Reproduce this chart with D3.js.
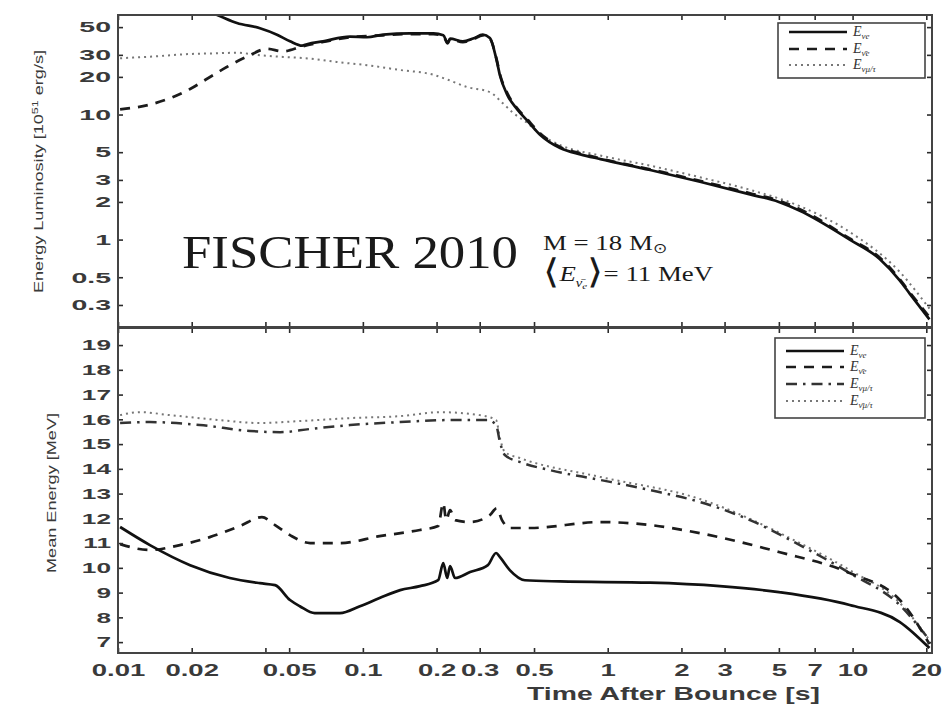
<!DOCTYPE html>
<html>
<head>
<meta charset="utf-8">
<script src="https://cdn.jsdelivr.net/npm/d3@7"></script>
<style>
  body { margin: 0; background: #fff; }
  svg { display: block; }
</style>
</head>
<body>
<svg id="chart" width="944" height="708"></svg>
<script>
// ---- data (time in s) ----
const timeTicks = [0.01, 0.02, 0.04, 0.05, 0.1, 0.2, 0.3, 0.5, 1, 2, 3, 5, 7, 10, 20];
const timeLabels = [0.01, 0.02, 0.05, 0.1, 0.2, 0.3, 0.5, 1, 2, 3, 5, 7, 10, 20];
const lumTicks = [0.3, 0.5, 1, 2, 3, 5, 10, 20, 30, 50];
const energyTicks = [7, 8, 9, 10, 11, 12, 13, 14, 15, 16, 17, 18, 19];

// luminosity [10^51 erg/s]
const lumNue = [[0.021,72],[0.0254,62.6],[0.0306,53.9],[0.038,49],[0.0446,43.5],[0.0504,38.5],
  [0.0565,35.5],[0.0591,36.5],[0.0688,38.5],[0.0886,42],[0.104,41.5],[0.121,43.5],[0.156,44.5],
  [0.194,44.5],[0.213,43],[0.222,37.5],[0.227,40.5],[0.256,38.5],[0.282,40.5],[0.309,43.5],
  [0.33,41],[0.352,27],[0.363,20.5],[0.388,14.5],[0.427,11],[0.468,9],[0.529,6.9],[0.639,5.4],
  [0.773,4.8],[0.934,4.4],[1.49,3.6],[2.38,2.9],[3.81,2.3],[5.0,2.0],[6.09,1.7],[9.73,1.0],
  [12.9,0.7],[15.6,0.47],[17.1,0.37],[20.6,0.23]];
const lumAnue = [[0.0102,11],[0.0135,12],[0.0163,13.5],[0.0197,16],[0.0233,19.5],[0.0278,24],
  [0.0336,29],[0.0406,33.5],[0.0472,32],[0.0565,35],[0.0688,38],[0.0886,41.5],[0.121,43],
  [0.156,44],[0.194,44],[0.213,42.5],[0.222,37],[0.227,40],[0.256,38],[0.282,40],[0.309,43],
  [0.33,40.5],[0.352,27.5],[0.363,21],[0.388,15],[0.427,11.2],[0.468,9.2],[0.529,7.1],[0.639,5.5],
  [0.773,4.9],[0.934,4.45],[1.49,3.65],[2.38,2.95],[3.81,2.35],[5.0,2.05],[6.09,1.75],[9.73,1.02],
  [12.9,0.72],[15.6,0.48],[17.1,0.38],[20.6,0.24]];
const lumNux = [[0.0102,28.2],[0.0135,29],[0.0197,30.5],[0.0254,30.9],[0.0306,31.2],[0.038,29.8],
  [0.0472,28.9],[0.0609,28],[0.0782,26.3],[0.104,24.8],[0.142,22.7],[0.194,20.8],[0.222,19],
  [0.266,16.6],[0.33,15.1],[0.373,12.3],[0.411,10.3],[0.468,8.6],[0.529,7],[0.639,5.7],[0.934,4.7],
  [1.49,3.9],[2.38,3.15],[3.81,2.5],[6.09,1.85],[9.73,1.15],[15.6,0.55],[20.6,0.28]];

// mean energy [MeV]
const eNue = [[0.0102,11.65],[0.0135,10.92],[0.0197,10.11],[0.0286,9.59],[0.038,9.38],[0.0438,9.3],
  [0.0504,8.7],[0.0553,8.45],[0.0636,8.17],[0.0806,8.17],[0.0973,8.45],[0.117,8.78],[0.142,9.1],
  [0.171,9.26],[0.203,9.5],[0.213,10.19],[0.221,9.59],[0.227,10.07],[0.238,9.59],[0.274,9.83],
  [0.324,10.11],[0.35,10.6],[0.363,10.43],[0.398,9.91],[0.459,9.5],[0.639,9.45],[1.49,9.4],
  [2.87,9.26],[5.0,9.02],[9.73,8.5],[15.6,7.81],[20.6,6.76]];
const eAnue = [[0.0102,10.96],[0.0135,10.72],[0.0179,10.92],[0.0237,11.24],[0.0315,11.69],
  [0.0387,12.05],[0.0438,11.73],[0.0504,11.32],[0.0609,11],[0.0806,11],[0.117,11.28],[0.171,11.53],
  [0.203,11.69],[0.213,12.62],[0.219,11.93],[0.227,12.33],[0.238,11.93],[0.274,11.85],[0.33,12.13],
  [0.352,12.41],[0.37,11.93],[0.398,11.61],[0.484,11.61],[0.934,11.85],[1.49,11.73],[2.38,11.4],
  [5.0,10.64],[9.73,9.79],[15.6,8.7],[20.6,6.92]];
const eNux = [[0.0102,15.85],[0.0135,15.89],[0.0216,15.77],[0.0346,15.53],[0.0459,15.48],
  [0.0609,15.61],[0.0886,15.77],[0.142,15.89],[0.227,15.97],[0.324,15.97],[0.35,15.77],[0.363,15.08],
  [0.38,14.56],[0.44,14.27],[0.58,13.95],[0.934,13.55],[1.49,13.14],[2.38,12.66],[3.81,11.93],
  [6.09,10.92],[9.73,9.79],[15.6,8.49],[20.6,7.08]];
const eAnux = [[0.0102,16.17],[0.0123,16.29],[0.0163,16.17],[0.026,15.97],[0.038,15.85],
  [0.0553,15.93],[0.0886,16.05],[0.142,16.13],[0.207,16.29],[0.3,16.17],[0.35,15.97],[0.363,15.24],
  [0.38,14.68],[0.44,14.43],[0.934,13.67],[2.38,12.78],[6.09,11],[9.73,9.91],[15.6,8.58],[20.6,7.08]];

// ---- layout ----
const svg = d3.select('#chart');
const L = 118, R = 932, T1 = 15, B1 = 327, T2 = 328, B2 = 653;
const ink = '#2b2b2b';

const x = d3.scaleLog().domain([0.01, 21.1]).range([L, R]);
const yLum = d3.scaleLog().domain([0.2, 62.5]).range([B1, T1]);
const yEn = d3.scaleLinear().domain([6.56, 19.69]).range([B2, T2]);

const styles = {
  solid:   {dash: null,          width: 2.7, color: '#111'},
  dashed:  {dash: '10,8',        width: 2.7, color: '#1c1c1c'},
  dashdot: {dash: '11,6,2.5,6',  width: 2.5, color: '#333'},
  dotted:  {dash: '2,4',         width: 2.0, color: '#777'}
};

// stretch text horizontally, the scan is wide
function stretch(sel, sx) {
  sel.attr('transform', `scale(${sx},1)`);
}

function panel(id, y, top, bottom, series, ticks, sx) {
  svg.append('clipPath').attr('id', id)
    .append('rect').attr('x', L).attr('y', top).attr('width', R - L).attr('height', bottom - top);

  const g = svg.append('g').attr('clip-path', `url(#${id})`);
  series.forEach(s => {
    const st = styles[s.style];
    g.append('path')
      .datum(s.data)
      .attr('d', d3.line().curve(d3.curveMonotoneX).x(d => x(d[0])).y(d => y(d[1])))
      .attr('fill', 'none')
      .attr('stroke', st.color)
      .attr('stroke-width', st.width)
      .attr('stroke-linejoin', 'round')
      .attr('stroke-dasharray', st.dash);
  });

  // inward ticks on all four sides
  const gl = svg.append('g').attr('transform', `translate(${L},0)`)
    .call(d3.axisLeft(y).tickValues(ticks).tickSize(-5).tickPadding(7 / sx).tickFormat(d => d));
  const gr = svg.append('g').attr('transform', `translate(${R},0)`)
    .call(d3.axisRight(y).tickValues(ticks).tickSize(-5).tickFormat(''));
  const gt = svg.append('g').attr('transform', `translate(0,${top})`)
    .call(d3.axisTop(x).tickValues(timeTicks).tickSize(-5).tickFormat(''));
  const gb = svg.append('g').attr('transform', `translate(0,${bottom})`)
    .call(d3.axisBottom(x).tickValues(timeTicks).tickSize(-5).tickFormat(''));
  [gl, gr, gt, gb].forEach(a => {
    a.select('.domain').remove();
    a.selectAll('line').attr('stroke', ink).attr('stroke-width', 1.6);
  });
  gl.selectAll('text')
    .attr('fill', '#3a3a3a')
    .style('font', 'bold 15px "Liberation Sans", Arial, sans-serif')
    .call(stretch, sx);

  svg.append('rect')
    .attr('x', L).attr('y', top).attr('width', R - L).attr('height', bottom - top)
    .attr('fill', 'none').attr('stroke', '#444').attr('stroke-width', 2);
}

panel('clipTop', yLum, T1, B1, [
  {data: lumNux, style: 'dotted'},
  {data: lumAnue, style: 'dashed'},
  {data: lumNue, style: 'solid'}
], lumTicks, 1.9);

panel('clipBot', yEn, T2, B2, [
  {data: eAnux, style: 'dotted'},
  {data: eNux, style: 'dashdot'},
  {data: eAnue, style: 'dashed'},
  {data: eNue, style: 'solid'}
], energyTicks, 1.75);

// time labels under the lower panel
svg.append('g').attr('transform', `translate(0,${B2})`)
  .call(d3.axisBottom(x).tickValues(timeLabels).tickSize(0).tickPadding(11).tickFormat(d => d))
  .call(a => a.select('.domain').remove())
  .selectAll('text')
  .attr('fill', '#3a3a3a')
  .style('font', 'bold 17px "Liberation Sans", Arial, sans-serif')
  .call(stretch, 1.62);

// axis titles
const titleFont = '"Liberation Sans", Arial, sans-serif';
svg.append('text')
  .attr('transform', 'translate(700,700)')
  .attr('x', -173).attr('text-anchor', 'start')
  .attr('textLength', 293).attr('lengthAdjust', 'spacingAndGlyphs')
  .attr('fill', '#3a3a3a')
  .style('font', `bold 19px ${titleFont}`)
  .text('Time After Bounce [s]');

const yt1 = svg.append('text')
  .attr('transform', 'translate(43,293) rotate(-90)')
  .attr('textLength', 243).attr('lengthAdjust', 'spacingAndGlyphs')
  .attr('fill', '#3a3a3a')
  .style('font', `13px ${titleFont}`);
yt1.append('tspan').text('Energy Luminosity [10');
yt1.append('tspan').attr('dy', -5).style('font-size', '9px').text('51');
yt1.append('tspan').attr('dy', 5).text(' erg/s]');

svg.append('text')
  .attr('transform', 'translate(56,573) rotate(-90)')
  .attr('textLength', 160).attr('lengthAdjust', 'spacingAndGlyphs')
  .attr('fill', '#3a3a3a')
  .style('font', `13px ${titleFont}`)
  .text('Mean Energy [MeV]');

// annotation
const serif = '"Liberation Serif", "Times New Roman", serif';
svg.append('text')
  .attr('x', 182).attr('y', 268)
  .attr('textLength', 336).attr('lengthAdjust', 'spacingAndGlyphs')
  .attr('fill', '#1a1a1a')
  .style('font', `47px ${serif}`)
  .text('FISCHER 2010');

const note = svg.append('g').attr('transform', 'translate(543,0) scale(1.22,1)')
  .style('font-family', serif).attr('fill', '#1a1a1a');
const m = note.append('text').attr('x', 0).attr('y', 250).style('font-size', '22px');
m.append('tspan').text('M = 18 M');
m.append('tspan').attr('dy', 3).style('font-size', '14px').text('⊙');
const e = note.append('text').attr('x', 0).attr('y', 281).style('font-size', '22px');
e.append('tspan').style('font-size', '34px').attr('dy', 2).text('⟨');
e.append('tspan').attr('dy', -2).style('font-style', 'italic').text('E');
e.append('tspan').attr('dy', 6).style('font-size', '12px').style('font-style', 'italic').text('ν̄');
e.append('tspan').attr('dy', 2).style('font-size', '9px').style('font-style', 'italic').text('e');
e.append('tspan').attr('dy', -6).style('font-size', '34px').text('⟩');
e.append('tspan').attr('dy', -2).text('= 11 MeV');

// legends
function legend(x0, y0, w, h, rows) {
  const g = svg.append('g');
  g.append('rect').attr('x', x0).attr('y', y0).attr('width', w).attr('height', h)
    .attr('fill', '#fff').attr('stroke', '#444').attr('stroke-width', 1.6);
  rows.forEach(r => {
    const st = styles[r.style];
    g.append('line')
      .attr('x1', x0 + 11).attr('x2', x0 + 69).attr('y1', r.y).attr('y2', r.y)
      .attr('stroke', st.color).attr('stroke-width', st.width)
      .attr('stroke-dasharray', st.dash);
    const t = g.append('text').attr('x', x0 + 75).attr('y', r.y + 4)
      .attr('fill', '#333').style('font-family', serif).style('font-size', '14px');
    t.append('tspan').style('font-style', 'italic').text('E');
    t.append('tspan').attr('dy', 3).style('font-size', '9px').style('font-style', 'italic').text(r.sub);
  });
}
legend(778, 23, 147, 55, [
  {style: 'solid', y: 32, sub: 'νe'},
  {style: 'dashed', y: 49, sub: 'ν̄e'},
  {style: 'dotted', y: 65, sub: 'νμ/τ'}
]);
legend(775, 338, 150, 80, [
  {style: 'solid', y: 351, sub: 'νe'},
  {style: 'dashed', y: 367, sub: 'ν̄e'},
  {style: 'dashdot', y: 384, sub: 'νμ/τ'},
  {style: 'dotted', y: 401, sub: 'ν̄μ/τ'}
]);
</script>
</body>
</html>
